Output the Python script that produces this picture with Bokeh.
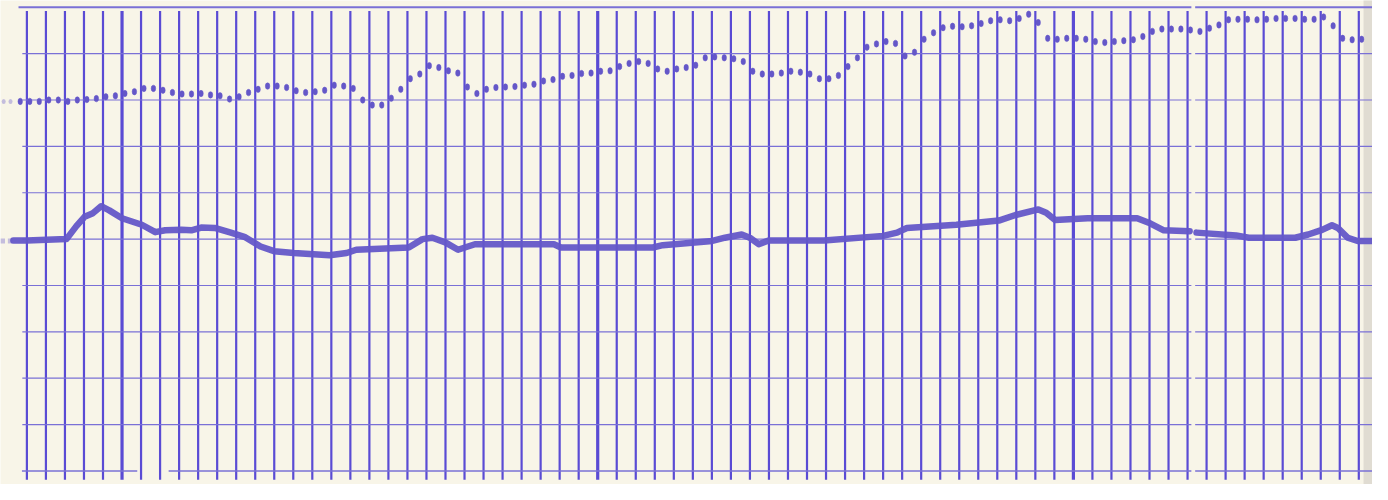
import numpy as np
from bokeh.plotting import figure
from bokeh.models import Range1d
from bokeh.embed import file_html
from bokeh.resources import INLINE

# ---- data (chart divisions) ----
# dotted pen: one dot every half division, starting at -0.35
dot_start = -0.35
dot_step = 0.5
dot_values = [
    7.97, 7.97, 7.97, 8.00, 8.00, 7.97, 8.00, 8.01, 8.03, 8.07,
    8.09, 8.14, 8.18, 8.25, 8.25, 8.21, 8.16, 8.13, 8.13, 8.14,
    8.11, 8.09, 8.02, 8.07, 8.16, 8.23, 8.30, 8.30, 8.27, 8.20,
    8.16, 8.18, 8.21, 8.32, 8.30, 8.25, 8.00, 7.89, 7.89, 8.04,
    8.23, 8.46, 8.56, 8.74, 8.70, 8.63, 8.58, 8.28, 8.14, 8.23,
    8.27, 8.28, 8.29, 8.32, 8.34, 8.41, 8.44, 8.51, 8.53, 8.57,
    8.58, 8.62, 8.63, 8.72, 8.79, 8.83, 8.79, 8.67, 8.62, 8.67,
    8.70, 8.75, 8.91, 8.93, 8.91, 8.89, 8.83, 8.62, 8.56, 8.56,
    8.58, 8.62, 8.60, 8.56, 8.46, 8.46, 8.53, 8.72, 8.91, 9.14,
    9.21, 9.26, 9.22, 8.95, 9.03, 9.31, 9.45, 9.56, 9.59, 9.58,
    9.60, 9.65, 9.71, 9.73, 9.71, 9.76, 9.85, 9.67, 9.33, 9.31,
    9.33, 9.33, 9.31, 9.26, 9.24, 9.26, 9.28, 9.30, 9.37, 9.48,
    9.53, 9.53, 9.53, 9.51, 9.48, 9.55, 9.62, 9.73, 9.74, 9.74,
    9.73, 9.74, 9.76, 9.76, 9.76, 9.74, 9.74, 9.79, 9.60, 9.33,
    9.30, 9.31,
]
# faint dots left on the paper margin
margin_dot_t = [-1.22, -0.86]
margin_dot_v = [7.97, 7.97]

# solid pen trace (time in divisions, value in divisions); NaN = pen gap
solid_t = [
    -0.71, 0.00, 2.08, 2.60, 3.03, 3.44, 3.90, 4.33, 5.00, 6.04,
    6.75, 7.27, 8.12, 8.64, 9.16, 9.87, 10.72, 11.43, 12.28, 12.99,
    14.03, 15.91, 16.80, 17.31, 20.07, 20.79, 21.31, 21.99, 22.66, 23.18,
    23.55, 27.70, 28.07, 32.90, 33.42, 36.02, 36.69, 37.57, 37.99, 38.46,
    38.98, 41.89, 45.00, 45.73, 46.25, 48.85, 51.08, 51.96, 53.16, 53.57,
    54.04, 55.75, 58.35, 59.03, 59.75, 61.11, 61.30, 61.47, 63.55, 64.22,
    66.66, 67.34, 68.07, 68.59, 68.90, 69.42, 69.94, 70.82,
]
solid_v = [
    4.97, 4.97, 5.00, 5.28, 5.48, 5.55, 5.71, 5.62, 5.45, 5.31,
    5.15, 5.19, 5.20, 5.19, 5.25, 5.24, 5.14, 5.05, 4.84, 4.74,
    4.70, 4.65, 4.70, 4.77, 4.82, 5.00, 5.03, 4.93, 4.77, 4.84,
    4.89, 4.89, 4.82, 4.82, 4.87, 4.96, 5.03, 5.10, 5.03, 4.89,
    4.97, 4.97, 5.07, 5.14, 5.24, 5.31, 5.40, 5.52, 5.64, 5.57,
    5.41, 5.45, 5.45, 5.34, 5.19, 5.17, float("nan"), 5.14, 5.08, 5.03,
    5.03, 5.10, 5.20, 5.30, 5.24, 5.03, 4.96, 4.96,
]

# ---- styling ----
paper = "#f8f5e8"
grid_v_col = "#5a4bd4"
grid_h_col = "#7a70d6"
ink = "#6457c8"

p = figure(width=1372, height=484, output_backend="svg", toolbar_location=None,
           x_range=Range1d(-1.387, 70.72), y_range=Range1d(-0.292, 10.146),
           min_border=0, background_fill_color=paper, border_fill_color=paper)
p.axis.visible = False
p.grid.visible = False
p.outline_line_color = None

# paper edge shadow on the right
p.quad(left=70.25, right=70.8, bottom=-0.3, top=10.2, fill_color="#d9d6cc",
       line_color=None, fill_alpha=0.8)

# vertical chart lines (71 lines, every 25th from 5 heavier)
xs = np.arange(71)
heavy = [5, 30, 55]
thin = [x for x in xs if x not in heavy]
p.segment(x0=thin, y0=-0.19, x1=thin, y1=9.92, line_color=grid_v_col, line_width=2.2)
p.segment(x0=heavy, y0=-0.19, x1=heavy, y1=9.92, line_color=grid_v_col, line_width=3.2)

# horizontal chart lines (with the paper seam)
hs = np.arange(1, 10)
p.segment(x0=-0.24, y0=hs, x1=61.2, y1=hs, line_color=grid_h_col, line_width=1.2)
p.segment(x0=61.4, y0=hs, x1=71, y1=hs, line_color=grid_h_col, line_width=1.2)
p.segment(x0=[-0.26, 7.45, 61.4], y0=0, x1=[5.8, 61.2, 71], y1=0,
          line_color=grid_h_col, line_width=1.4)
p.segment(x0=[-0.44, 61.4], y0=10.0, x1=[61.2, 71], y1=10.0,
          line_color=grid_h_col, line_width=2.0)

# faint marks in the margin
p.segment(x0=[-1.39, -1.0], y0=4.96, x1=[-1.15, -0.75], y1=4.96, line_color=ink,
          line_width=5, line_alpha=0.35)
p.ellipse(x=margin_dot_t, y=margin_dot_v, width=4, height=5, width_units="screen",
          height_units="screen", fill_color=ink, line_color=None, fill_alpha=0.35)

# solid trace
p.line(solid_t, solid_v, line_color=ink, line_width=6.5, line_cap="round",
       line_join="round", line_alpha=0.95)

# dotted trace
dot_t = [dot_start + dot_step * i for i in range(len(dot_values))]
p.ellipse(x=dot_t, y=dot_values, width=4.5, height=6.5, width_units="screen",
          height_units="screen", fill_color=ink, line_color=ink, line_width=0.5)

open("out.html", "w").write(file_html(p, INLINE))
